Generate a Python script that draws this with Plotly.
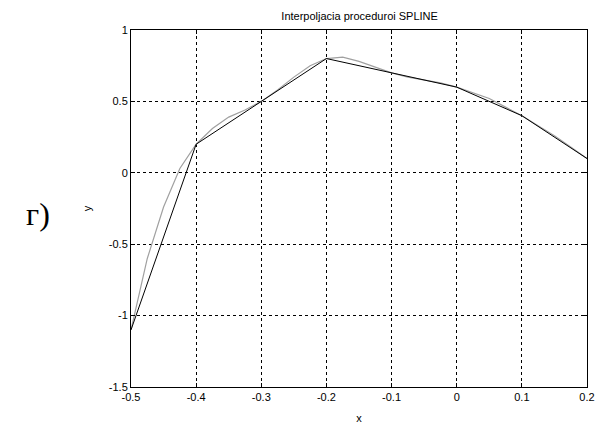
import plotly.graph_objects as go

# tabulated points (black polyline)
x_nodes = [-0.5, -0.4, -0.3, -0.2, -0.1, 0.0, 0.1, 0.2]
y_nodes = [-1.1, 0.2, 0.5, 0.8, 0.7, 0.6, 0.4, 0.1]

# spline values, step 0.025
x_fine = [-0.5, -0.475, -0.45, -0.425, -0.4, -0.375, -0.35, -0.325, -0.3,
          -0.275, -0.25, -0.225, -0.2, -0.175, -0.15, -0.125, -0.1,
          -0.075, -0.05, -0.025, 0.0, 0.025, 0.05, 0.075, 0.1,
          0.125, 0.15, 0.175, 0.2]
y_fine = [-1.1, -0.60, -0.24, 0.03, 0.2, 0.31, 0.39, 0.44, 0.5,
          0.58, 0.67, 0.75, 0.8, 0.81, 0.78, 0.74, 0.7,
          0.67, 0.65, 0.63, 0.6, 0.56, 0.52, 0.46, 0.4,
          0.33, 0.26, 0.18, 0.1]

x_ticks = [-0.5, -0.4, -0.3, -0.2, -0.1, 0, 0.1, 0.2]
x_labels = ["-0.5", "-0.4", "-0.3", "-0.2", "-0.1", "0", "0.1", "0.2"]
y_ticks = [-1.5, -1, -0.5, 0, 0.5, 1]
y_labels = ["-1.5", "-1", "-0.5", "0", "0.5", "1"]

fig = go.Figure()
fig.add_trace(go.Scatter(x=x_fine, y=y_fine, mode="lines",
                         line=dict(color="#a0a0a0", width=1.2)))
fig.add_trace(go.Scatter(x=x_nodes, y=y_nodes, mode="lines",
                         line=dict(color="#000000", width=1)))

axis_style = dict(showline=True, linecolor="black", linewidth=1, mirror="ticks",
                  ticks="inside", ticklen=4, tickcolor="black", automargin=False,
                  showgrid=True, gridcolor="black", gridwidth=1, griddash="3px,3px",
                  zeroline=False, tickfont=dict(family="Liberation Sans", size=11, color="black"))

fig.update_xaxes(range=[-0.5, 0.2], tickvals=x_ticks, ticktext=x_labels,
                 title=dict(text="x", font=dict(family="Liberation Sans", size=11, color="black"),
                            standoff=12), **axis_style)
fig.update_yaxes(range=[-1.5, 1], tickvals=y_ticks, ticktext=y_labels,
                 title=dict(text="y", font=dict(family="Liberation Sans", size=11, color="black"),
                            standoff=14), **axis_style)

# the page body adds ~8px margin, so the figure is sized 8px smaller
fig.update_layout(
    width=598, height=422,
    margin=dict(l=123, r=19, t=22, b=43),
    paper_bgcolor="white", plot_bgcolor="white",
    showlegend=False,
    title=dict(text="Interpoljacia proceduroi SPLINE", x=0.588, xanchor="center",
               y=0.99, yanchor="top",
               font=dict(family="Liberation Sans", size=11, color="black")),
)

fig.add_annotation(text="г)", xref="paper", yref="paper", x=-0.205, y=0.485,
                   xanchor="center", yanchor="middle", showarrow=False,
                   font=dict(family="Liberation Serif", size=32, color="black"))

fig.write_html("out.html")
